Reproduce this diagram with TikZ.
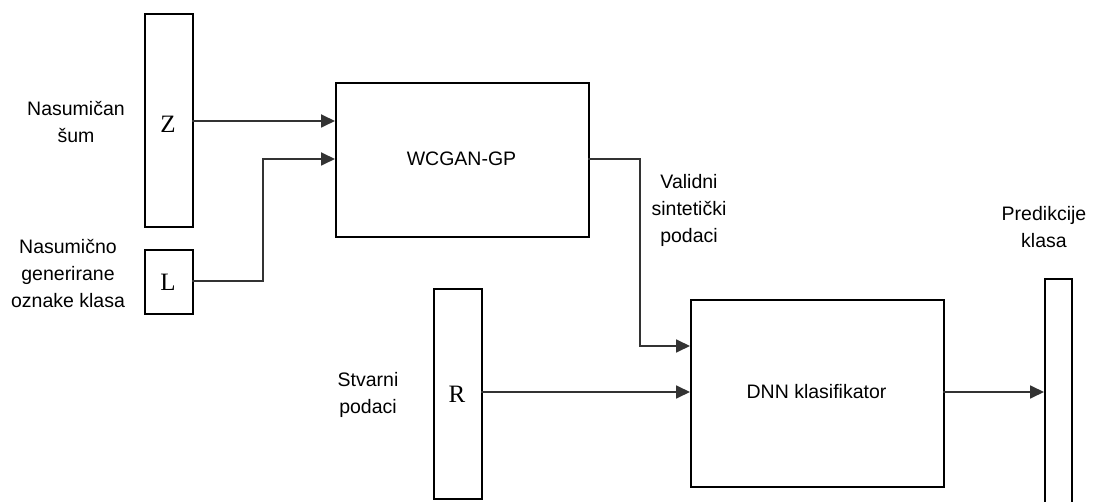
\documentclass[tikz,border=0pt]{standalone}
\usepackage{fontspec}
\setmainfont{Liberation Sans}
\newfontfamily\serifletter{Liberation Serif}
\usetikzlibrary{arrows.meta}
\tikzset{
  box/.style={draw=black, line width=1.7pt, inner sep=0pt, anchor=north west},
  lbl/.style={font=\fontsize{19.5}{27}\selectfont, align=center, text=black},
  big/.style={font=\serifletter\fontsize{25}{28}\selectfont},
  conn/.style={draw=black!80, line width=1.8pt, -{Triangle[length=14pt,width=13pt]}}
}
\begin{document}
\begin{tikzpicture}[x=1pt,y=-1pt]
\useasboundingbox (0,0) rectangle (1096,502);
% boxes
\node[box, minimum width=48pt, minimum height=213pt] (Z) at (144,13) {};
\node[big] at (168,124) {Z};
\node[box, minimum width=48pt, minimum height=64pt] (L) at (144,249) {};
\node[big] at (168,282) {L};
\node[box, minimum width=253pt, minimum height=154pt] (G) at (335,82) {};
\node[lbl] at (461.5,159) {WCGAN-GP};
\node[box, minimum width=48pt, minimum height=210pt] (R) at (433,288) {};
\node[big] at (457,394) {R};
\node[box, minimum width=253pt, minimum height=187pt] (D) at (690,299) {};
\node[lbl] at (816.5,392) {DNN klasifikator};
\node[box, minimum width=27pt, minimum height=240pt] (P) at (1044,278) {};
% labels
\node[lbl] (lz) at (76,122) {Nasumičan\\šum};
\node[lbl] (ll) at (68,273) {Nasumično\\generirane\\oznake klasa};
\node[lbl] (lv) at (689,210) {Validni\\sintetički\\podaci};
\node[lbl] (lr) at (368,395) {Stvarni\\podaci};
\node[lbl] (lp) at (1044,227) {Predikcije\\klasa};
% coordinates
\coordinate (za) at (192,121);
\coordinate (ga) at (335,121);
\coordinate (la) at (192,281);
\coordinate (gb) at (335,159);
\coordinate (go) at (588,159);
\coordinate (da) at (690,346);
\coordinate (ra) at (481,392);
\coordinate (db) at (690,392);
\coordinate (do) at (943,392);
\coordinate (pa) at (1044,392);
% connectors
\draw[conn] (za) -- (ga);
\draw[conn] (la) -- (263,281) -- (263,159) -- (gb);
\draw[conn] (go) -- (640,159) -- (640,346) -- (da);
\draw[conn] (ra) -- (db);
\draw[conn] (do) -- (pa);
\end{tikzpicture}
\end{document}
